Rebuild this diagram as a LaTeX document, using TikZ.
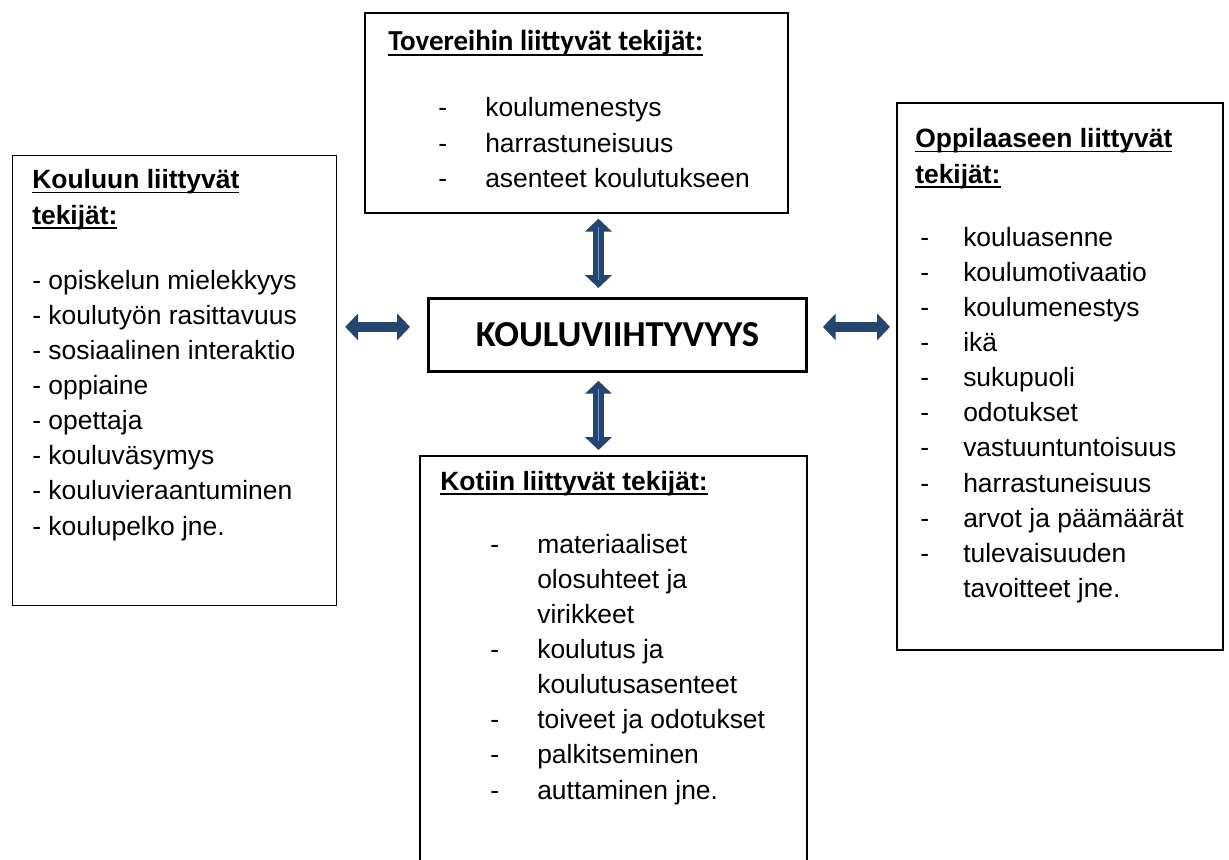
\documentclass[tikz,border=0pt]{standalone}
\usepackage{fontspec}
\setmainfont{Liberation Sans}
\newfontfamily\calibri{Carlito}
\usepackage{tikz}
\usetikzlibrary{arrows.meta, positioning, calc}

\definecolor{nuolensininen}{HTML}{24456D}
\definecolor{vaaleansininen}{HTML}{6A96CF}

% alleviivaus kiinteälle syvyydelle
\newcommand{\alleviivaa}[2][1.4pt]{\leavevmode\setbox0\hbox{#2}\rlap{\rule[\dimexpr-1.8pt-#1\relax]{\wd0}{#1}}\box0}

\begin{document}
\begin{tikzpicture}[
    x=0.025cm, y=-0.025cm,
    laatikko/.style={rectangle, draw=black, line width=1.2pt, anchor=north west, inner sep=0pt},
    otsikko/.style={anchor=base west, inner sep=0pt, font=\fontsize{18.8}{25}\selectfont\bfseries},
    lista/.style={anchor=base west, inner sep=0pt, font=\fontsize{18.8}{25}\selectfont},
    nuoli/.style={{Triangle[width=6.5mm,length=3.2mm]}-{Triangle[width=6.5mm,length=3.2mm]}, draw=nuolensininen, line width=2.7mm},
    korostus/.style 2 args={postaction={draw=vaaleansininen, line width=0.6pt, arrows=-, shorten <=#1, shorten >=#2}}
]

\fill[white] (0,0) rectangle (1229,860);
\useasboundingbox (0,0) rectangle (1229,860);

% Laatikot
\node[laatikko, minimum width=10.575cm, minimum height=5cm] (toverit) at (364,12) {};
\node[laatikko, line width=0.8pt, minimum width=8.1cm, minimum height=11.25cm] (koulu) at (12,155) {};
\node[laatikko, line width=2pt, minimum width=9.45cm, minimum height=1.825cm,
      font=\calibri\fontsize{26}{30}\selectfont\bfseries] (keskus) at (427,297) {KOULUVIIHTYVYYS};
\node[laatikko, minimum width=8.15cm, minimum height=13.675cm] (oppilas) at (896,102) {};
\node[laatikko, minimum width=9.675cm, minimum height=10.75cm] (koti) at (419,455) {};

% Tovereihin liittyvat
\node[otsikko, font=\calibri\fontsize{20.6}{25}\selectfont\bfseries] (toverotsikko) at (388,51) {\alleviivaa[1.9pt]{Tovereihin liittyvät tekijät:}};
\node[lista] (toverlista) at (438,117) {\begin{tabular}[t]{@{}p{1.175cm}@{}l@{}}
- & koulumenestys\\
- & harrastuneisuus\\
- & asenteet koulutukseen
\end{tabular}};

% Kouluun liittyvat
\node[otsikko] (kouluotsikko) at (32,189) {\begin{tabular}[t]{@{}l@{}}
\alleviivaa{Kouluun liittyvät}\\
\alleviivaa{tekijät:}
\end{tabular}};
\node[lista] (koululista) at (32,289) {\begin{tabular}[t]{@{}l@{}}
- opiskelun mielekkyys\\
- koulutyön rasittavuus\\
- sosiaalinen interaktio\\
- oppiaine\\
- opettaja\\
- kouluväsymys\\
- kouluvieraantuminen\\
- koulupelko jne.
\end{tabular}};

% Oppilaaseen liittyvat
\node[otsikko] (oppilasotsikko) at (915,148) {\begin{tabular}[t]{@{}l@{}}
\alleviivaa{Oppilaaseen liittyvät}\\
\alleviivaa{tekijät:}
\end{tabular}};
\node[lista] (oppilaslista) at (920,246) {\begin{tabular}[t]{@{}p{1.075cm}@{}l@{}}
- & kouluasenne\\
- & koulumotivaatio\\
- & koulumenestys\\
- & ikä\\
- & sukupuoli\\
- & odotukset\\
- & vastuuntuntoisuus\\
- & harrastuneisuus\\
- & arvot ja päämäärät\\
- & tulevaisuuden\\
  & tavoitteet jne.
\end{tabular}};

% Kotiin liittyvat
\node[otsikko] (kotiotsikko) at (440,490) {\alleviivaa{Kotiin liittyvät tekijät:}};
\node[lista] (kotilista) at (490,553) {\begin{tabular}[t]{@{}p{1.175cm}@{}l@{}}
- & materiaaliset\\
  & olosuhteet ja\\
  & virikkeet\\
- & koulutus ja\\
  & koulutusasenteet\\
- & toiveet ja odotukset\\
- & palkitseminen\\
- & auttaminen jne.
\end{tabular}};

% Nuolet
\coordinate (vasenpiste) at ($(keskus.west)+(0,-8)$);
\coordinate (oikeapiste) at ($(keskus.east)+(0,-8)$);
\coordinate (ylapiste) at ($(keskus.north)+(-19,0)$);
\coordinate (alapiste) at ($(keskus.south)+(-19,0)$);

\draw[nuoli, shorten <=0.2cm, shorten >=0.425cm] (koulu.east |- vasenpiste) -- (vasenpiste);
\draw[nuoli, shorten <=0.375cm, shorten >=0.15cm] (oikeapiste) -- (oppilas.west |- oikeapiste);
\draw[nuoli, korostus={0.325cm}{0.425cm}, shorten <=0.125cm, shorten >=0.225cm] (toverit.south -| ylapiste) -- (ylapiste);
\draw[nuoli, korostus={0.4cm}{0.35cm}, shorten <=0.2cm, shorten >=0.125cm] (alapiste) -- (koti.north -| alapiste);

\end{tikzpicture}
\end{document}
